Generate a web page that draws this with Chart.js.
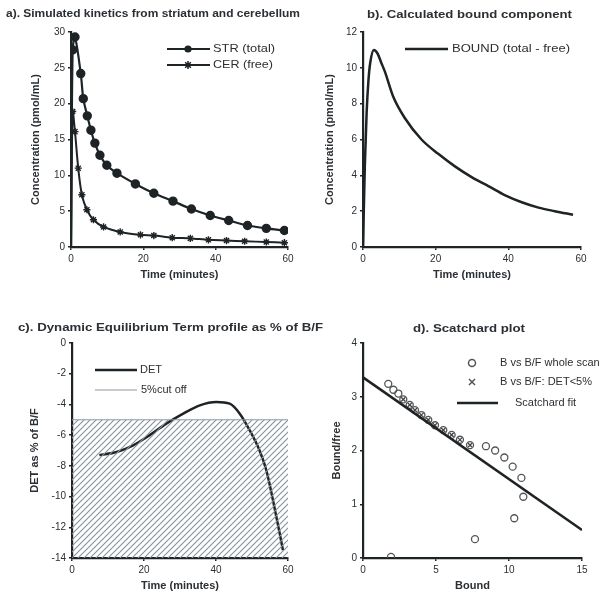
<!DOCTYPE html>
<html><head><meta charset="utf-8">
<script src="https://cdn.jsdelivr.net/npm/chart.js@4.4.1/dist/chart.umd.min.js"></script>
<style>
html,body{margin:0;padding:0;background:#fff;width:610px;height:597px;overflow:hidden;position:relative;}
canvas{position:absolute;}
</style></head><body>
<canvas id="ca" width="305" height="292" style="left:0px;top:0px"></canvas>
<canvas id="cb" width="305" height="292" style="left:305px;top:0px"></canvas>
<canvas id="cc" width="340" height="297" style="left:0px;top:300px"></canvas>
<canvas id="cd" width="305" height="297" style="left:305px;top:300px"></canvas>
<script>
// ---- data ----
const strTime   = [0, 0.45, 1.1, 2.7, 3.4, 4.5, 5.5, 6.6, 8, 9.9, 12.7, 17.8, 22.9, 28.2, 33.3, 38.5, 43.6, 48.8, 54, 59];
const strValues = [0, 27.5, 29.3, 24.2, 20.7, 18.3, 16.3, 14.5, 12.8, 11.4, 10.3, 8.8, 7.5, 6.4, 5.3, 4.4, 3.7, 3.0, 2.6, 2.3];
const cerTime   = [0, 0.45, 1.1, 2, 3, 4.4, 6.2, 9, 13.6, 19.2, 22.9, 28, 33, 38, 43, 48, 54, 59];
const cerValues = [0, 18.9, 16.1, 11.0, 7.3, 5.2, 3.8, 2.8, 2.1, 1.7, 1.6, 1.3, 1.2, 1.0, 0.9, 0.8, 0.7, 0.6];
const boundTime   = [0, 0.5, 1, 1.5, 2, 3, 4, 5, 6, 8.3, 11.5, 16.1, 20.7, 25.3, 29.9, 34.5, 39, 43.7, 48.3, 52.8, 57.8];
const boundValues = [0, 4.5, 7.5, 9.3, 10.3, 11.0, 10.8, 10.3, 9.8, 8.4, 7.2, 6.0, 5.2, 4.5, 3.9, 3.4, 2.9, 2.5, 2.2, 2.0, 1.8];
const detTime   = [7.6, 12.4, 17, 21.6, 26.2, 30.9, 35.5, 40.1, 43.8, 46.6, 49.4, 52.1, 54, 55.8, 57.7, 58.6];
const detValues = [-7.3, -7.1, -6.66, -6.0, -5.25, -4.6, -4.06, -3.84, -3.95, -4.6, -5.7, -7.0, -8.3, -10.2, -12.4, -13.5];
const cutoffTime  = [0, 60];
const cutoffValue = [-5, -5];
const scanB  = [1.92, 7.67, 10.36, 10.98, 10.85, 10.25, 9.68, 9.05, 8.42, 7.33, 6.64, 6.07, 5.5, 4.93, 4.47, 4.0, 3.56, 3.2, 2.76, 2.42, 2.08, 1.73];
const scanBF = [0.02, 0.35, 0.74, 1.14, 1.49, 1.70, 1.87, 2.0, 2.08, 2.1, 2.2, 2.29, 2.38, 2.47, 2.57, 2.66, 2.75, 2.85, 2.95, 3.06, 3.13, 3.24];
const detB  = [7.33, 6.64, 6.07, 5.5, 4.93, 4.47, 4.0, 3.56, 3.2, 2.76];
const detBF = [2.1, 2.2, 2.29, 2.38, 2.47, 2.57, 2.66, 2.75, 2.85, 2.95];
const fitB  = [0, 15];
const fitBF = [3.36, 0.52];

const titles = {
  ca: 'a). Simulated kinetics from striatum and cerebellum',
  cb: 'b). Calculated bound component',
  cc: 'c). Dynamic Equilibrium Term profile as % of B/F',
  cd: 'd). Scatchard plot'
};

// ---- styling ----
const FONT = "'Liberation Sans', Arial, Helvetica, sans-serif";
const INK = '#1e2326';
const TXT = '#2b2f33';
const GRAYLINE = '#8d979e';

function pts(xs, ys){ return xs.map((x,i)=>({x:x, y:ys[i]})); }

function fitText(ctx, text, x, y, w, font){
  ctx.save();
  ctx.font = font;
  ctx.fillStyle = TXT;
  ctx.textBaseline = 'middle';
  ctx.textAlign = 'left';
  const m = ctx.measureText(text).width;
  ctx.translate(x, y);
  if (w) ctx.scale(w / m, 1);
  ctx.fillText(text, 0, 0);
  ctx.restore();
}
function drawMarker(ctx, kind, x, y, r){
  ctx.save();
  ctx.strokeStyle = INK; ctx.fillStyle = INK; ctx.lineWidth = 1.5;
  if (kind === 'circleFilled'){ ctx.beginPath(); ctx.arc(x,y,r,0,Math.PI*2); ctx.fill(); }
  else if (kind === 'circleOpen'){ ctx.strokeStyle = '#555'; ctx.beginPath(); ctx.arc(x,y,r,0,Math.PI*2); ctx.stroke(); }
  else if (kind === 'star'){
    ctx.beginPath();
    for (let k=0;k<4;k++){ const a=k*Math.PI/4; ctx.moveTo(x-Math.cos(a)*r,y-Math.sin(a)*r); ctx.lineTo(x+Math.cos(a)*r,y+Math.sin(a)*r); }
    ctx.stroke();
  } else if (kind === 'cross'){
    ctx.strokeStyle = '#555';
    ctx.beginPath(); ctx.moveTo(x-r,y-r); ctx.lineTo(x+r,y+r); ctx.moveTo(x+r,y-r); ctx.lineTo(x-r,y+r); ctx.stroke();
  }
  ctx.restore();
}

const decor = {
  ca: { title:[6,14,294], legend:[
        {line:[167,210,49,2.2,INK], marker:['circleFilled',188,49,3.6], text:['STR (total)',213,49,62]},
        {line:[167,210,65,2.2,INK], marker:['star',188,65,4], text:['CER (free)',213,65,60]} ]},
  cb: { title:[62,15,205], legend:[
        {line:[100,143,49,2.5,INK], text:['BOUND (total - free)',147,49,118]} ]},
  cc: { title:[18,28,305], legend:[
        {line:[95,137,70,2.5,INK], text:['DET',140,70,0]},
        {line:[95,137,90,1,GRAYLINE], text:['5%cut off',141,90,0]} ]},
  cd: { title:[108,29,112], legend:[
        {marker:['circleOpen',167,63,3.5], text:['B vs B/F whole scan',195,63,0]},
        {marker:['cross',167,82,3], text:['B vs B/F: DET<5%',195,82,0]},
        {line:[152,193,103,2.5,INK], text:['Scatchard fit',210,103,0]} ]}
};

const decorPlugin = {
  id: 'decor',
  afterDraw(chart){
    const d = decor[chart.canvas.id];
    if (!d) return;
    const ctx = chart.ctx;
    fitText(ctx, titles[chart.canvas.id], d.title[0], d.title[1], d.title[2], 'bold 11px ' + FONT);
    d.legend.forEach(it => {
      if (it.line){
        ctx.save(); ctx.strokeStyle = it.line[4]; ctx.lineWidth = it.line[3];
        ctx.beginPath(); ctx.moveTo(it.line[0], it.line[2]); ctx.lineTo(it.line[1], it.line[2]); ctx.stroke(); ctx.restore();
      }
      if (it.marker) drawMarker(ctx, it.marker[0], it.marker[1], it.marker[2], it.marker[3]);
      if (it.text) fitText(ctx, it.text[0], it.text[1], it.text[2], it.text[3], '11px ' + FONT);
    });
  }
};

function axis(min, max, step, title, titlePad, isX, size){
  return {
    type: 'linear', min: min, max: max,
    ticks: { stepSize: step, color: TXT, font: { size: 10, family: FONT }, padding: 3 },
    grid: { display: true, drawOnChartArea: false, drawTicks: true, tickLength: 3, color: INK, lineWidth: 1.5 },
    border: { display: true, color: INK, width: 2.2 },
    title: { display: true, text: title, color: TXT, font: { size: 11, weight: 'bold', family: FONT },
             padding: isX ? { top: 0, bottom: titlePad } : { top: titlePad, bottom: 0 } },
    afterFit: function(s){ if (isX) s.height = size; else s.width = size; }
  };
}

function baseOptions(pad, xAx, yAx){
  return {
    responsive: false, animation: false, devicePixelRatio: 1,
    layout: { padding: pad },
    plugins: { legend: { display: false }, tooltip: { enabled: false }, title: { display: false } },
    scales: { x: xAx, y: yAx }
  };
}

// hatch pattern
function makeHatch(){
  const c = document.createElement('canvas');
  c.width = 6; c.height = 6;
  const g = c.getContext('2d');
  g.strokeStyle = '#87939b'; g.lineWidth = 1.1;
  g.beginPath();
  g.moveTo(0,6); g.lineTo(6,0);
  g.moveTo(-1,1); g.lineTo(1,-1);
  g.moveTo(5,7); g.lineTo(7,5);
  g.stroke();
  return g.createPattern(c, 'repeat');
}

// ---- panel a ----
new Chart(document.getElementById('ca'), {
  type: 'line',
  data: { datasets: [
    { label: 'STR (total)', data: pts(strTime, strValues), borderColor: INK, borderWidth: 2.2, backgroundColor: INK,
      pointRadius: strTime.map(t => t === 0 ? 0 : 3.6), pointStyle: 'circle', tension: 0.3 },
    { label: 'CER (free)', data: pts(cerTime, cerValues), borderColor: INK, borderWidth: 2, backgroundColor: INK,
      pointRadius: cerTime.map(t => t === 0 ? 0 : 3.6), pointStyle: 'star', pointBorderWidth: 1.4, tension: 0.3 }
  ]},
  options: baseOptions({ left: 0, right: 17, top: 32, bottom: 5 },
    axis(0, 60, 20, 'Time (minutes)', 5.4, true, 40),
    axis(0, 30, 5, 'Concentration (pmol/mL)', 29.4, false, 71)),
  plugins: [decorPlugin]
});

// ---- panel b ----
new Chart(document.getElementById('cb'), {
  type: 'line',
  data: { datasets: [
    { label: 'BOUND (total - free)', data: pts(boundTime, boundValues), borderColor: INK, borderWidth: 2.5,
      pointRadius: 0, tension: 0.4, cubicInterpolationMode: 'monotone' }
  ]},
  options: baseOptions({ left: 0, right: 29, top: 32, bottom: 5 },
    axis(0, 60, 20, 'Time (minutes)', 5.4, true, 40),
    axis(0, 12, 2, 'Concentration (pmol/mL)', 18.4, false, 58)),
  plugins: [decorPlugin]
});

// ---- panel c ----
new Chart(document.getElementById('cc'), {
  type: 'line',
  data: { datasets: [
    { label: '5%cut off', data: pts(cutoffTime, cutoffValue), borderColor: GRAYLINE, borderWidth: 1,
      pointRadius: 0, fill: 'start', backgroundColor: makeHatch() },
    { label: 'DET', data: pts(detTime, detValues), borderColor: INK, borderWidth: 2.5,
      pointRadius: 0, tension: 0.4, cubicInterpolationMode: 'monotone' }
  ]},
  options: baseOptions({ left: 0, right: 52, top: 43, bottom: 3 },
    axis(0, 60, 20, 'Time (minutes)', 1.4, true, 36),
    axis(-14, 0, 2, 'DET as % of B/F', 28.4, false, 72)),
  plugins: [decorPlugin]
});

// ---- panel d ----
new Chart(document.getElementById('cd'), {
  type: 'scatter',
  data: { datasets: [
    { label: 'Scatchard fit', data: pts(fitB, fitBF), showLine: true, borderColor: INK, borderWidth: 2.5, pointRadius: 0 },
    { label: 'B vs B/F whole scan', data: pts(scanB, scanBF), pointStyle: 'circle', pointRadius: 3.5,
      borderColor: '#555', backgroundColor: 'rgba(0,0,0,0)', borderWidth: 1.3 },
    { label: 'B vs B/F: DET<5%', data: pts(detB, detBF), pointStyle: 'crossRot', pointRadius: 3,
      borderColor: '#444', borderWidth: 1.3 }
  ]},
  options: baseOptions({ left: 0, right: 28, top: 43, bottom: 3 },
    axis(0, 15, 5, 'Bound', 1.4, true, 36),
    axis(0, 4, 1, 'Bound/free', 25.4, false, 58)),
  plugins: [decorPlugin]
});
</script>
</body></html>
